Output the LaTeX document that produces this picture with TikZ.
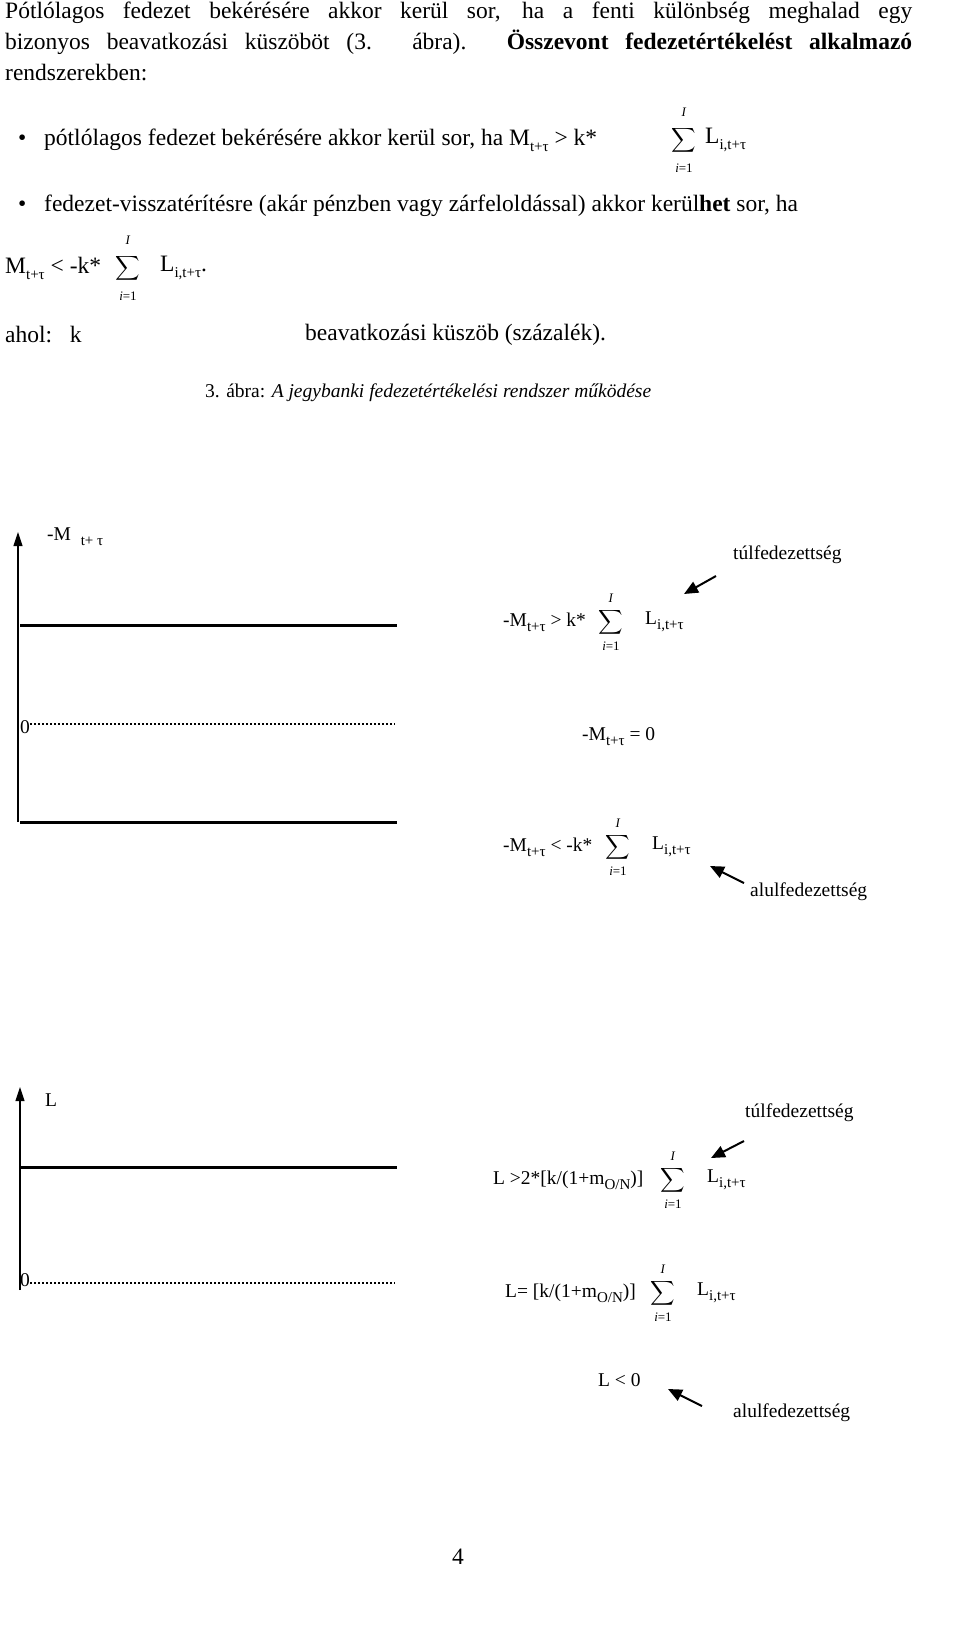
\documentclass[tikz,border=0pt]{standalone}
\usepackage{fontspec}
\setmainfont{Liberation Serif}
\usetikzlibrary{arrows.meta}
\newcommand\bt{\fontsize{23.5}{31}\selectfont}
\newcommand\dt{\fontsize{19.5}{23}\selectfont}
\newcommand\subt[1]{\raisebox{-0.25em}{\fontsize{15}{16}\selectfont #1}}
\begin{document}
\begin{tikzpicture}[x=1pt,y=-1pt,
  txt/.style={inner sep=0,anchor=west},
  thick line/.style={line width=3pt},
  dotline/.style={line width=2pt,dash pattern=on 2pt off 2pt},
  axis/.style={line width=1.2pt,-{Triangle[length=14pt,width=9pt]}},
  pointer/.style={line width=2pt,-{Triangle[length=14pt,width=12pt]}},
  sig/.style={inner sep=0,scale=1.7},
  lim/.style={inner sep=0,font=\fontsize{13}{14}\selectfont}]
\useasboundingbox[fill=white] (0,0) rectangle (960,1649);
% body text
\node[inner sep=0,anchor=north west,text width=907pt,align=justify] (p1) at (5,2) {\bt Pótlólagos fedezet bekérésére akkor kerül sor, ha a fenti különbség meghalad egy\linebreak bizonyos beavatkozási küszöböt (3. ábra). \textbf{Összevont fedezetértékelést alkalmazó}\linebreak rendszerekben:\par};
\node[txt] (b1) at (18,140) {\bt •};
\node[txt] (t1) at (44,140) {\bt pótlólagos fedezet bekérésére akkor kerül sor, ha M\subt{t+τ} > k*};
\node[sig] (s1) at (684,140) {$\displaystyle\sum$};
\node[lim] at (684,112) {\textit{I}};
\node[lim] at (684,168) {\textit{i}=1};
\node[txt] (l1) at (705,140) {\bt L\subt{i,t+τ}};
\node[txt] (b2) at (18,206) {\bt •};
\node[txt] (t2) at (44,206) {\bt fedezet-visszatérítésre (akár pénzben vagy zárfeloldással) akkor kerül\textbf{het} sor, ha};
\node[txt] (t3) at (5,268) {\bt M\subt{t+τ} < -k*};
\node[sig] (s2) at (128,268) {$\displaystyle\sum$};
\node[lim] at (128,240) {\textit{I}};
\node[lim] at (128,296) {\textit{i}=1};
\node[txt] (l2) at (160,268) {\bt L\subt{i,t+τ}.};
\node[txt] (ah) at (5,335) {\bt ahol:\ \ \ k};
\node[txt] (bk) at (305,335) {\bt beavatkozási küszöb (százalék).};
\node[txt] (cap) at (205,393) {\dt 3. ábra: \textit{A jegybanki fedezetértékelési rendszer működése}};
% diagram 1
\coordinate (a1b) at (18,822);
\coordinate (a1t) at (18,532);
\draw[axis] (a1b) -- (a1t);
\node[txt] (m1) at (47,537) {\dt -M \ \subt{t+ τ}};
\coordinate (h1a) at (20,625); \coordinate (h1b) at (397,625);
\draw[thick line] (h1a) -- (h1b);
\coordinate (d1a) at (30,724); \coordinate (d1b) at (395,724);
\draw[dotline] (d1a) -- (d1b);
\node[txt] (z1) at (20,727) {\dt 0};
\coordinate (h2a) at (20,822); \coordinate (h2b) at (397,822);
\draw[thick line] (h2a) -- (h2b);
\node[txt] (tu1) at (733,555) {\dt túlfedezettség};
\coordinate (pa1) at (716,576); \coordinate (pb1) at (684,594);
\draw[pointer] (pa1) -- (pb1);
\node[txt] (e1) at (503,622) {\dt -M\subt{t+τ} > k*};
\node[sig] (s3) at (611,622) {$\displaystyle\sum$};
\node[lim] at (611,598) {\textit{I}};
\node[lim] at (611,646) {\textit{i}=1};
\node[txt] (l3) at (645,622) {\dt L\subt{i,t+τ}};
\node[txt] (e2) at (582,737) {\dt -M\subt{t+τ} = 0};
\node[txt] (e3) at (503,847) {\dt -M\subt{t+τ} < -k*};
\node[sig] (s4) at (618,847) {$\displaystyle\sum$};
\node[lim] at (618,823) {\textit{I}};
\node[lim] at (618,871) {\textit{i}=1};
\node[txt] (l4) at (652,847) {\dt L\subt{i,t+τ}};
\coordinate (pa2) at (744,883); \coordinate (pb2) at (710,866);
\draw[pointer] (pa2) -- (pb2);
\node[txt] (al1) at (750,892) {\dt alulfedezettség};
% diagram 2
\coordinate (a2b) at (20,1290);
\coordinate (a2t) at (20,1087);
\draw[axis] (a2b) -- (a2t);
\node[txt] (L0) at (45,1100) {\dt L};
\coordinate (h3a) at (20,1167); \coordinate (h3b) at (397,1167);
\draw[thick line] (h3a) -- (h3b);
\coordinate (d2a) at (30,1283); \coordinate (d2b) at (395,1283);
\draw[dotline] (d2a) -- (d2b);
\node[txt] (z2) at (20,1280) {\dt 0};
\node[txt] (tu2) at (745,1113) {\dt túlfedezettség};
\coordinate (pa3) at (744,1141); \coordinate (pb3) at (711,1158);
\draw[pointer] (pa3) -- (pb3);
\node[txt] (f1) at (493,1180) {\dt L >2*[k/(1+m\subt{O/N})]};
\node[sig] (s5) at (673,1180) {$\displaystyle\sum$};
\node[lim] at (673,1156) {\textit{I}};
\node[lim] at (673,1204) {\textit{i}=1};
\node[txt] (l5) at (707,1180) {\dt L\subt{i,t+τ}};
\node[txt] (f2) at (505,1293) {\dt L= [k/(1+m\subt{O/N})]};
\node[sig] (s6) at (663,1293) {$\displaystyle\sum$};
\node[lim] at (663,1269) {\textit{I}};
\node[lim] at (663,1317) {\textit{i}=1};
\node[txt] (l6) at (697,1293) {\dt L\subt{i,t+τ}};
\node[txt] (f3) at (598,1380) {\dt L < 0};
\coordinate (pa4) at (702,1406); \coordinate (pb4) at (668,1389);
\draw[pointer] (pa4) -- (pb4);
\node[txt] (al2) at (733,1413) {\dt alulfedezettség};
\node[txt] (pg) at (452,1557) {\bt 4};
\end{tikzpicture}
\end{document}
